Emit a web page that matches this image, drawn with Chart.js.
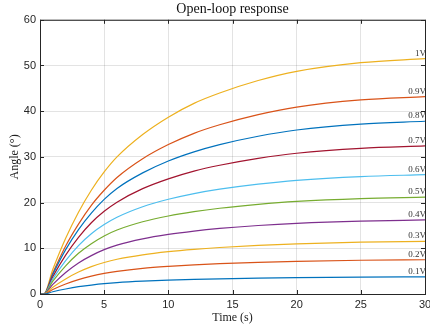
<!DOCTYPE html>
<html>
<head>
<meta charset="utf-8">
<script src="https://cdn.jsdelivr.net/npm/chart.js@4.4.0/dist/chart.umd.min.js"></script>
<style>
html, body { margin: 0; padding: 0; background: #fff; }
#wrap { width: 430px; height: 335px; }
</style>
</head>
<body>
<div id="wrap"><canvas id="chart"></canvas></div>
<script>
// time samples (s) and angle (deg) for each step voltage
const time = [0, 0.3, 1, 2, 3, 4, 5, 6, 8, 10, 12, 14, 17, 20, 25, 30];
const v01 = [0, 0, 0.5, 1.1, 1.6, 1.95, 2.25, 2.48, 2.8, 3.02, 3.19, 3.32, 3.47, 3.58, 3.69, 3.75];
const v02 = [0, 0, 1.0, 2.2, 3.15, 3.9, 4.5, 4.95, 5.6, 6.04, 6.38, 6.64, 6.94, 7.16, 7.39, 7.5];
const v03 = [0, 0, 1.5, 3.3, 4.8, 6.0, 6.9, 7.6, 8.57, 9.26, 9.78, 10.18, 10.64, 10.98, 11.33, 11.5];
const v04 = [0, 0, 2.1, 4.7, 6.8, 8.4, 9.7, 10.7, 12.07, 13.04, 13.77, 14.34, 14.99, 15.47, 15.96, 16.2];
const v05 = [0, 0, 2.8, 6.15, 8.9, 11.0, 12.7, 14.0, 15.8, 17.07, 18.02, 18.76, 19.61, 20.25, 20.88, 21.2];
const v06 = [0, 0, 3.3, 7.3, 10.6, 13.2, 15.2, 16.8, 19.1, 20.73, 21.98, 22.94, 24.05, 24.88, 25.7, 26.1];
const v07 = [0, 0, 3.8, 8.5, 12.4, 15.6, 18.1, 20.1, 23.05, 25.2, 26.9, 28.17, 29.68, 30.8, 31.88, 32.4];
const v08 = [0, 0, 4.3, 9.7, 14.1, 17.7, 20.7, 23.1, 26.5, 29.1, 31.1, 32.69, 34.52, 35.88, 37.18, 37.8];
const v09 = [0, 0, 4.6, 10.5, 15.3, 19.4, 22.7, 25.5, 29.6, 32.7, 35.16, 37.03, 39.26, 40.91, 42.47, 43.2];
const v10 = [0, 0, 5.4, 12.2, 17.9, 22.7, 26.7, 30.0, 34.9, 38.7, 41.72, 43.98, 46.71, 48.72, 50.62, 51.5];

const series = [v01, v02, v03, v04, v05, v06, v07, v08, v09, v10];
const curveLabels = ["0.1V", "0.2V", "0.3V", "0.4V", "0.5V", "0.6V", "0.7V", "0.8V", "0.9V", "1V"];
const colors = ["#0072BD", "#D95319", "#EDB120", "#7E2F8E", "#77AC30",
                "#4DBEEE", "#A2142F", "#0072BD", "#D95319", "#EDB120"];

const axisColor = "#262626";
const gridColor = "rgba(38,38,38,0.13)";

// box around the axes, inward ticks, and voltage labels at the line ends
const framePlugin = {
    id: "frame",
    afterDatasetsDraw(chart) {
        const { ctx, chartArea: a, scales: { x, y } } = chart;
        ctx.save();
        ctx.strokeStyle = axisColor;
        ctx.lineWidth = 1;
        ctx.strokeRect(a.left + 0.5, a.top + 0.5, a.right - a.left, a.bottom - a.top);
        ctx.beginPath();
        x.ticks.forEach(t => {
            const px = Math.round(x.getPixelForValue(t.value)) + 0.5;
            ctx.moveTo(px, a.bottom); ctx.lineTo(px, a.bottom - 4);
            ctx.moveTo(px, a.top); ctx.lineTo(px, a.top + 4);
        });
        y.ticks.forEach(t => {
            const py = Math.round(y.getPixelForValue(t.value)) + 0.5;
            ctx.moveTo(a.left, py); ctx.lineTo(a.left + 4, py);
            ctx.moveTo(a.right, py); ctx.lineTo(a.right - 4, py);
        });
        ctx.stroke();

        ctx.font = '9px "Liberation Serif"';
        ctx.fillStyle = "#333";
        ctx.textAlign = "right";
        ctx.textBaseline = "alphabetic";
        chart.data.datasets.forEach((ds, i) => {
            const pts = chart.getDatasetMeta(i).data;
            const p = pts[pts.length - 1];
            ctx.fillText(ds.label, a.right + 1, p.y - 3);
        });
        ctx.restore();
    }
};

new Chart(document.getElementById("chart"), {
    type: "line",
    data: {
        datasets: series.map((vals, i) => ({
            label: curveLabels[i],
            data: time.map((t, k) => ({ x: t, y: vals[k] })),
            borderColor: colors[i],
            borderWidth: 1.2,
            pointRadius: 0,
            fill: false,
            cubicInterpolationMode: "monotone"
        }))
    },
    options: {
        responsive: true,
        maintainAspectRatio: false,
        animation: false,
        layout: { padding: { left: 8, right: 5, top: 1, bottom: 0 } },
        plugins: {
            legend: { display: false },
            tooltip: { enabled: false },
            title: {
                display: true,
                fullSize: false,
                text: "Open-loop response",
                color: "#111",
                font: { family: "Liberation Serif", size: 14, weight: "normal" },
                padding: { top: 0, bottom: 2 }
            }
        },
        scales: {
            x: {
                type: "linear",
                min: 0,
                max: 30,
                ticks: {
                    stepSize: 5,
                    color: axisColor,
                    padding: 4,
                    maxRotation: 0,
                    font: { family: "Liberation Sans", size: 11 }
                },
                grid: { color: gridColor, drawTicks: false },
                border: { display: false },
                title: {
                    display: true,
                    text: "Time (s)",
                    color: "#222",
                    font: { family: "Liberation Serif", size: 12 },
                    padding: { top: 2, bottom: 10 }
                },
                afterFit(scale) {
                    scale.height = 41;
                    scale.paddingLeft = 0;
                    scale.paddingRight = 0;
                }
            },
            y: {
                min: 0,
                max: 60,
                ticks: {
                    stepSize: 10,
                    color: axisColor,
                    padding: 4,
                    font: { family: "Liberation Sans", size: 11 }
                },
                grid: { color: gridColor, drawTicks: false },
                border: { display: false },
                title: {
                    display: true,
                    text: "Angle (°)",
                    color: "#222",
                    font: { family: "Liberation Serif", size: 12 },
                    padding: { top: 0, bottom: 0 }
                },
                afterFit(scale) {
                    scale.width = 32;
                }
            }
        }
    },
    plugins: [framePlugin]
});
</script>
</body>
</html>
